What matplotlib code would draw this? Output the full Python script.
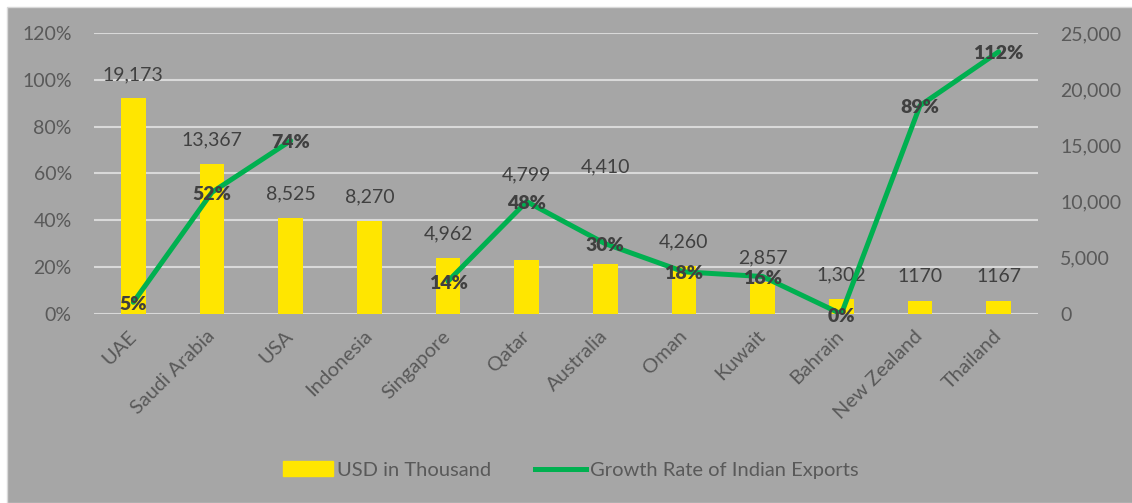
import matplotlib.pyplot as plt
import matplotlib.patches as mpatches
from matplotlib.lines import Line2D
import numpy as np

countries = ['UAE', 'Saudi Arabia', 'USA', 'Indonesia', 'Singapore', 'Qatar',
             'Australia', 'Oman', 'Kuwait', 'Bahrain', 'New Zealand', 'Thailand']
usd_thousand = [19173, 13367, 8525, 8270, 4962, 4799, 4410, 4260, 2857, 1302, 1170, 1167]
usd_labels = ['19,173', '13,367', '8,525', '8,270', '4,962', '4,799', '4,410',
              '4,260', '2,857', '1,302', '1170', '1167']
# growth rate (fraction); Indonesia has no value
growth = [0.05, 0.52, 0.74, np.nan, 0.14, 0.48, 0.30, 0.18, 0.16, 0.00, 0.89, 1.12]

# manual nudges of the value labels (pixels), as in the original chart
label_extra = [0, 0, 0, 0, 0, 61, 74, 0, 0, 0, 0, 0]

plt.rcParams['font.family'] = ['Lato', 'DejaVu Sans']

BG = '#a6a6a6'
GRID = '#d9d9d9'
TXT = '#595959'
LBL = '#404040'
YELLOW = '#ffe600'
GREEN = '#00b050'

fig = plt.figure(figsize=(11.32, 5.03), dpi=100)
fig.patch.set_facecolor('white')
bg = mpatches.Rectangle((7 / 1132, 0), 1, 1 - 7 / 503, transform=fig.transFigure,
                        facecolor=BG, edgecolor=GRID, lw=1, zorder=-10)
fig.add_artist(bg)

rect = [94 / 1132, 1 - 314 / 503, (1038 - 94) / 1132, (314 - 33) / 503]
ax = fig.add_axes(rect)
ax.set_facecolor(BG)
ax_bar = ax.twinx()
ax_line = ax.twinx()

x = np.arange(len(countries))

# left axis: percent scale and grid
ax.set_ylim(0, 1.2)
ax.set_yticks(np.arange(0, 1.21, 0.2))
ax.set_yticklabels([f'{int(round(v * 100))}%' for v in np.arange(0, 1.21, 0.2)])
ax.yaxis.grid(True, color=GRID, lw=1.5)
ax.set_axisbelow(True)
ax.set_xlim(-0.5, len(countries) - 0.5)
ax.set_xticks(x)
ax.set_xticklabels(countries, rotation=45, ha='right', va='center', rotation_mode='anchor')
ax.tick_params(axis='x', length=0, pad=14, labelsize=14.5, labelcolor=TXT)
ax.tick_params(axis='y', length=0, pad=16, labelsize=14, labelcolor=TXT)

# bars on right axis
ax_bar.bar(x, usd_thousand, width=0.31, color=YELLOW, zorder=2)
ax_bar.set_ylim(0, 25000)
ax_bar.set_yticks(range(0, 25001, 5000))
ax_bar.set_yticklabels([f'{v:,}' for v in range(0, 25001, 5000)])
ax_bar.tick_params(axis='y', length=0, pad=16, labelsize=14, labelcolor=TXT)
for i, v in enumerate(usd_thousand):
    ax_bar.annotate(usd_labels[i], (i, v), xytext=(0, 24 + label_extra[i]),
                    textcoords='offset pixels', ha='center', va='center',
                    fontsize=14, color=LBL)

# growth line
ax_line.plot(x, growth, color=GREEN, lw=3.6, solid_capstyle='round', zorder=3)
ax_line.set_ylim(0, 1.2)
ax_line.set_yticks([])
for i, g in enumerate(growth):
    if np.isnan(g):
        continue
    ax_line.annotate(f'{int(round(g * 100))}%', (i, g), xytext=(0, -2),
                     textcoords='offset pixels', ha='center', va='center',
                     fontsize=14, fontweight='heavy', color=LBL, zorder=4)

for a in (ax, ax_bar, ax_line):
    for s in a.spines.values():
        s.set_visible(False)

handles = [mpatches.Patch(color=YELLOW),
           Line2D([0], [0], color=GREEN, lw=3.6)]
leg = fig.legend(handles, ['USD in Thousand', 'Growth Rate of Indian Exports'],
                 loc='center', bbox_to_anchor=(0.504, 1 - 470 / 503), ncol=2,
                 frameon=False, fontsize=14.5, handlelength=2.5, handletextpad=0.2,
                 columnspacing=2.2)
for t in leg.get_texts():
    t.set_color(TXT)

fig.savefig('out.png', dpi=100, facecolor=fig.get_facecolor())
